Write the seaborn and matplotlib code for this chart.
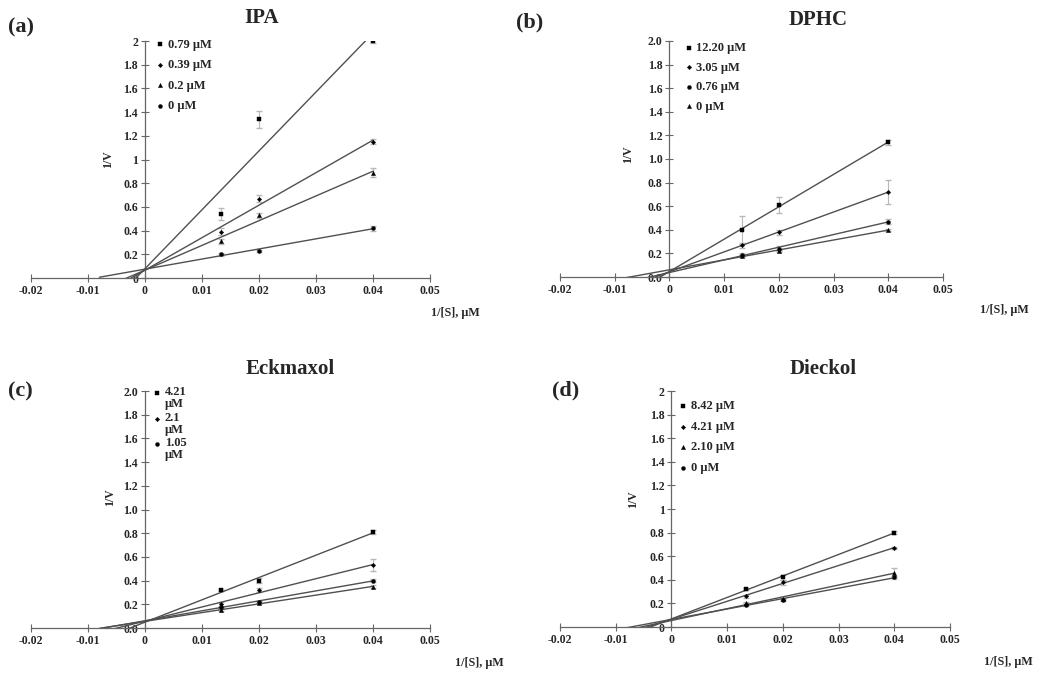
import matplotlib
matplotlib.use("Agg")
import matplotlib.pyplot as plt
import seaborn as sns
import numpy as np

# substrate reciprocal, 1/[S]
inv_s = [0.0133, 0.02, 0.04]

# (a) IPA
ipa_labels = ["0.79 μM", "0.39 μM", "0.2 μM", "0 μM"]
ipa_y = [[0.54, 1.34, 2.00], [0.39, 0.67, 1.15], [0.31, 0.53, 0.89], [0.20, 0.23, 0.42]]
ipa_err = [[0.05, 0.07, 0.02], [0.03, 0.03, 0.02], [0.02, 0.02, 0.04], [0.01, 0.01, 0.02]]

# (b) DPHC
dphc_labels = ["12.20 μM", "3.05 μM", "0.76 μM", "0 μM"]
dphc_y = [[0.40, 0.61, 1.14], [0.27, 0.38, 0.72], [0.19, 0.24, 0.47], [0.18, 0.22, 0.40]]
dphc_err = [[0.12, 0.07, 0.02], [0.02, 0.02, 0.10], [0.01, 0.02, 0.02], [0.01, 0.01, 0.01]]

# (c) Eckmaxol (the legend only lists three of the four series)
eck_labels = ["4.21\nμM", "2.1\nμM", "1.05\nμM", None]
eck_y = [[0.32, 0.40, 0.81], [0.20, 0.32, 0.53], [0.18, 0.22, 0.40], [0.15, 0.21, 0.35]]
eck_err = [[0.01, 0.02, 0.02], [0.02, 0.02, 0.05], [0.01, 0.01, 0.01], [0.01, 0.01, 0.01]]

# (d) Dieckol
die_labels = ["8.42 μM", "4.21 μM", "2.10 μM", "0 μM"]
die_y = [[0.32, 0.42, 0.80], [0.26, 0.38, 0.67], [0.20, 0.24, 0.46], [0.19, 0.23, 0.42]]
die_err = [[0.01, 0.02, 0.01], [0.01, 0.02, 0.01], [0.01, 0.01, 0.04], [0.01, 0.01, 0.01]]

BACK_FORECAST = 0.008
MARKER_SIZE = {"s": 9, "D": 5, "^": 9, "o": 8}

sns.set_style("ticks")
plt.rcParams["font.family"] = ["Liberation Serif", "DejaVu Serif"]
plt.rcParams["font.weight"] = "bold"


def plot_panel(ax, labels, ys, errs, markers, title, tick_fmt, legend_cfg,
               title_xy, ylab_xy, xlab_xy):
    for lab, y, e, m in zip(labels, ys, errs, markers):
        ax.errorbar(inv_s, y, yerr=e, fmt="none", ecolor="#b8b8b8",
                    elinewidth=0.8, capsize=2, zorder=2)
        # linear trendline, extended backwards like the spreadsheet forecast
        k, b = np.polyfit(inv_s, y, 1)
        xs = np.array([-BACK_FORECAST, max(inv_s)])
        ax.plot(xs, k * xs + b, color="#505050", lw=1.0, zorder=3)
        sns.scatterplot(x=inv_s, y=y, marker=m, s=MARKER_SIZE[m], color="black",
                        edgecolor="black", linewidth=0.3, ax=ax, zorder=4,
                        label=lab if lab else "_nolegend_")

    ax.set_xlim(-0.02, 0.05)
    ax.set_ylim(0, 2)
    ax.spines["left"].set_position(("data", 0))
    ax.spines["bottom"].set_position(("data", 0))
    for side in ["top", "right"]:
        ax.spines[side].set_visible(False)
    for side in ["left", "bottom"]:
        ax.spines[side].set_color("#666666")
        ax.spines[side].set_linewidth(0.9)

    ax.set_xticks([-0.02, -0.01, 0, 0.01, 0.02, 0.03, 0.04, 0.05])
    ax.set_xticklabels(["-0.02", "-0.01", "0", "0.01", "0.02", "0.03", "0.04", "0.05"])
    yt = np.arange(0, 2.01, 0.2)
    ax.set_yticks(yt)
    ax.set_yticklabels([tick_fmt(v) for v in yt])
    ax.tick_params(direction="inout", length=6, width=0.8, color="#666666",
                   labelsize=8.5, pad=2)
    for t in ax.get_xticklabels() + ax.get_yticklabels():
        t.set_fontweight("bold")

    ax.set_xlabel("")
    ax.set_ylabel("")
    ax.text(*title_xy, title, transform=ax.transAxes, ha="center", va="center",
            fontsize=15, fontweight="bold")
    ax.text(*ylab_xy, "1/V", transform=ax.transAxes, ha="center", va="center",
            rotation=90, fontsize=8.5, fontweight="bold")
    ax.text(*xlab_xy, "1/[S], μM", transform=ax.transAxes, ha="center",
            va="center", fontsize=8.7, fontweight="bold")

    leg = ax.legend(loc="upper left", bbox_to_anchor=legend_cfg["anchor"],
                    frameon=False, fontsize=9, handlelength=0.4,
                    handletextpad=0.4, labelspacing=legend_cfg["spacing"],
                    borderaxespad=0, borderpad=0, markerscale=1.0)
    for t in leg.get_texts():
        t.set_fontweight("bold")
        t.set_linespacing(1.0)
    # two-line entries: keep the marker beside the first line
    if legend_cfg.get("lift"):
        for h in leg.legend_handles:
            off = h.get_offsets()
            off[:, 1] += legend_cfg["lift"]
            h.set_offsets(off)


def general(v):
    s = f"{v:.1f}"
    return s.rstrip("0").rstrip(".") if s.endswith(".0") else s


def one_decimal(v):
    return f"{v:.1f}"


fig = plt.figure(figsize=(10.43, 6.75), dpi=100)
ax_a = fig.add_axes([0.0297, 0.5881, 0.3826, 0.3511])
ax_b = fig.add_axes([0.5369, 0.5896, 0.3672, 0.3497])
ax_c = fig.add_axes([0.0297, 0.0696, 0.3826, 0.3511])
ax_d = fig.add_axes([0.5369, 0.0711, 0.3739, 0.3496])

plot_panel(ax_a, ipa_labels, ipa_y, ipa_err, ["s", "D", "^", "o"], "IPA",
           general, {"anchor": (0.318, 1.01), "spacing": 0.68},
           (0.579, 1.097), (0.193, 0.5), (1.063, -0.148))
plot_panel(ax_b, dphc_labels, dphc_y, dphc_err, ["s", "D", "o", "^"], "DPHC",
           one_decimal, {"anchor": (0.33, 0.995), "spacing": 0.6},
           (0.674, 1.089), (0.178, 0.52), (1.16, -0.14))
plot_panel(ax_c, eck_labels, eck_y, eck_err, ["s", "D", "o", "^"], "Eckmaxol",
           one_decimal, {"anchor": (0.31, 1.02), "spacing": 0.1, "lift": 4.5},
           (0.649, 1.093), (0.198, 0.55), (1.123, -0.148))
plot_panel(ax_d, die_labels, die_y, die_err, ["s", "D", "^", "o"], "Dieckol",
           general, {"anchor": (0.31, 0.96), "spacing": 0.68},
           (0.674, 1.093), (0.187, 0.54), (1.15, -0.15))

for lab, x, y in [("(a)", 0.02, 0.96), ("(b)", 0.508, 0.967),
                  ("(c)", 0.02, 0.42), ("(d)", 0.542, 0.422)]:
    fig.text(x, y, lab, ha="center", va="center", fontsize=16, fontweight="bold")

plt.savefig("out.png", dpi=100)
